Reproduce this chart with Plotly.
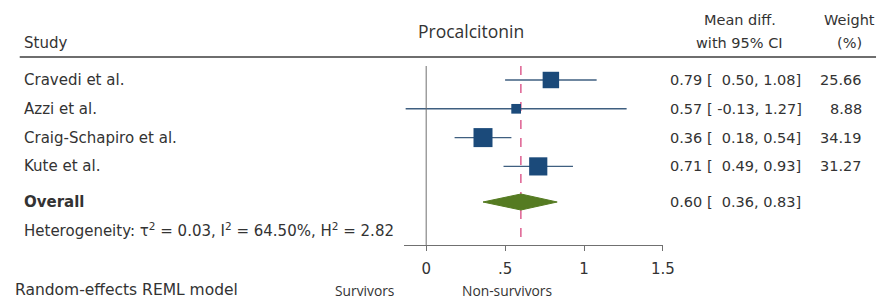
import plotly.graph_objects as go

# ---- data ----
studies = ["Cravedi et al.", "Azzi et al.", "Craig-Schapiro et al.", "Kute et al."]
est = [0.79, 0.57, 0.36, 0.71]
ci_lo = [0.50, -0.13, 0.18, 0.49]
ci_hi = [1.08, 1.27, 0.54, 0.93]
weights = [25.66, 8.88, 34.19, 31.27]
overall_est = 0.60
overall_lo = 0.36
overall_hi = 0.83
tick_vals = [0, 0.5, 1, 1.5]
tick_text = ["0", ".5", "1", "1.5"]
heterogeneity = "Heterogeneity: τ<sup>2</sup> = 0.03, I<sup>2</sup> = 64.50%, H<sup>2</sup> = 2.82"

W, H = 890, 299
NB = "\u00a0"
FONT = "DejaVu Sans, Liberation Sans, Arial, sans-serif"
FONT2 = "Open Sans, Lato, sans-serif"
TXT = "#333333"
FS = 14.5
FS_LEFT = 15

# row layout (pixel y, top-down)
row_y = [80 + i * 28.8 for i in range(len(studies))]
overall_y = 202
axis_y = 245
top_y = 66

fig = go.Figure()

# CI lines + squares (square area proportional to weight)
fig.add_trace(go.Scatter(
    x=est, y=row_y, mode="markers",
    marker=dict(symbol="square", size=[3.25 * w ** 0.5 for w in weights],
                color="#1b4a7a", opacity=1, line=dict(width=0)),
    error_x=dict(type="data", symmetric=False,
                 array=[h - e for h, e in zip(ci_hi, est)],
                 arrayminus=[e - l for e, l in zip(est, ci_lo)],
                 color="#3f5f80", thickness=1.4, width=0),
    cliponaxis=False, hoverinfo="skip", showlegend=False,
))

# overall diamond
fig.add_trace(go.Scatter(
    x=[overall_lo, overall_est, overall_hi, overall_est, overall_lo],
    y=[overall_y, overall_y - 8, overall_y, overall_y + 8, overall_y],
    mode="lines", fill="toself", fillcolor="#557b22",
    line=dict(color="#557b22", width=1), hoverinfo="skip", showlegend=False,
))

shapes = []
# header rule
shapes.append(dict(type="line", xref="paper", yref="y", x0=20 / W, x1=888 / W,
                   y0=57, y1=57, line=dict(color="#6e6e6e", width=2)))
# no-effect line
shapes.append(dict(type="line", xref="x", yref="y", x0=0, x1=0, y0=top_y, y1=axis_y,
                   line=dict(color="#707070", width=1)))
# overall effect dashed line
shapes.append(dict(type="line", xref="x", yref="y", x0=overall_est, x1=overall_est,
                   y0=top_y, y1=axis_y, line=dict(color="#d9457f", width=1.3, dash="dash"),
                   layer="below"))
fig.update_layout(shapes=shapes)

ann = []
def txt(x, y, s, anchor="left", size=FS, family=FONT, color=TXT):
    ann.append(dict(x=x / W, y=y, xref="paper", yref="y", text=s, showarrow=False,
                    xanchor=anchor, yanchor="middle",
                    font=dict(family=family, size=size, color=color)))

txt(22, 43, "Study", size=FS_LEFT)
txt(477, 31, "Procalcitonin", anchor="center", size=17.5, family=FONT2)
txt(750, 20, "Mean diff.", anchor="center")
txt(750, 43, "with 95% CI", anchor="center")
txt(861, 20, "Weight", anchor="center")
txt(861, 43, "(%)", anchor="center")

for i, s in enumerate(studies):
    txt(22, row_y[i], s, size=FS_LEFT)
    ci = f"{est[i]:.2f} [{ci_lo[i]:6.2f}, {ci_hi[i]:.2f}]".replace(" ", NB)
    txt(677, row_y[i], ci)
    txt(876, row_y[i], f"{weights[i]:.2f}", anchor="right")

txt(22, overall_y, "<b>Overall</b>", size=FS_LEFT)
txt(677, overall_y, f"{overall_est:.2f} [{overall_lo:6.2f}, {overall_hi:.2f}]".replace(" ", NB))
txt(22, 230, heterogeneity, size=FS_LEFT)
txt(13, 290, "Random-effects REML model", size=15.5)
txt(369, 290, "Survivors", anchor="center", size=13.8, family=FONT2)
txt(514, 290, "Non-survivors", anchor="center", size=13.8, family=FONT2)
fig.update_layout(annotations=ann)

x0px, x1px = 410, 672
fig.update_layout(
    width=W, height=H, margin=dict(l=0, r=0, t=0, b=0), autosize=False,
    paper_bgcolor="white", plot_bgcolor="white",
    xaxis=dict(domain=[x0px / W, x1px / W], range=[-0.1375, 1.5],
               anchor="free", position=1 - axis_y / H,
               showgrid=False, zeroline=False, showline=True, linecolor="#707070",
               linewidth=1, ticks="outside", ticklen=5, tickcolor="#707070",
               tickvals=tick_vals, ticktext=tick_text, ticklabelstandoff=5,
               tickfont=dict(family=FONT, size=15, color=TXT)),
    yaxis=dict(domain=[0, 1], range=[H, 0], visible=False),
    showlegend=False,
)

fig.write_html("out.html",
               config={"responsive": False, "displayModeBar": False, "staticPlot": True},
               post_script="document.body.style.margin='0';document.body.style.overflow='hidden';")
